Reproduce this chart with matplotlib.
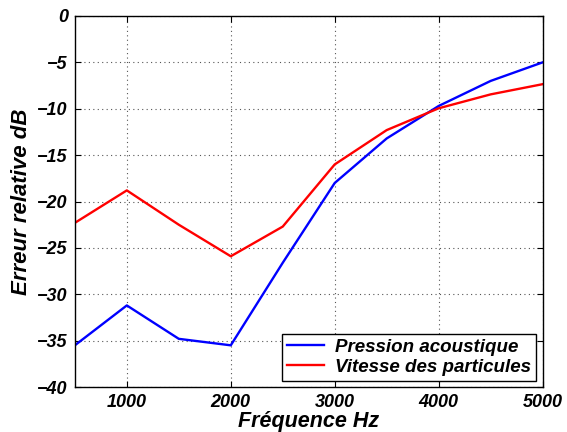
import matplotlib

matplotlib.use("Agg")
import matplotlib.pyplot as plt

# ---- data -------------------------------------------------------------------
freq = [500, 1000, 1500, 2000, 2500, 3000, 3500, 4000, 4500, 5000]
pression = [-35.5, -31.2, -34.8, -35.5, -26.6, -18.0, -13.2, -9.7, -7.0, -5.0]
vitesse = [-22.3, -18.8, -22.5, -25.9, -22.7, -16.0, -12.3, -9.95, -8.45, -7.35]
xticks = [1000, 2000, 3000, 4000, 5000]
yticks = [-40, -35, -30, -25, -20, -15, -10, -5, 0]

plt.rcParams.update(
    {
        "font.family": ["Liberation Sans", "DejaVu Sans"],
        "font.weight": "bold",
        "font.style": "italic",
        "font.size": 13,
        "axes.linewidth": 1.0,
        "xtick.direction": "in",
        "ytick.direction": "in",
        "axes.unicode_minus": True,
    }
)

fig = plt.figure(figsize=(5.67, 4.32), dpi=100)
ax = fig.add_axes([0.132, 0.104, 0.825, 0.859])

ax.plot(freq, pression, color="#0000ff", lw=1.7, label="Pression acoustique")
ax.plot(freq, vitesse, color="#ff0000", lw=1.7, label="Vitesse des particules")

ax.set_xlim(500, 5000)
ax.set_ylim(-40, 0)
ax.set_xticks(xticks)
ax.set_yticks(yticks)
ax.tick_params(top=True, right=True, length=4, width=0.8, labelsize=13, pad=5)
ax.grid(True, linestyle=(0, (1, 3)), color="#555555", lw=0.8)

# the reference crops this label at the bottom edge; keep it just inside
ax.set_xlabel("Fréquence Hz", fontsize=15.5, fontweight="bold", style="italic", labelpad=0)
ax.set_ylabel("Erreur relative dB", fontsize=16, fontweight="bold", style="italic", labelpad=4)

leg = ax.legend(loc="lower right", fancybox=False, edgecolor="black", framealpha=1,
                fontsize=13.5, borderaxespad=0.35, handlelength=2.0, borderpad=0.25,
                labelspacing=0.15, handletextpad=0.6)
leg.get_frame().set_linewidth(1.0)

fig.savefig("out.png", dpi=100)
